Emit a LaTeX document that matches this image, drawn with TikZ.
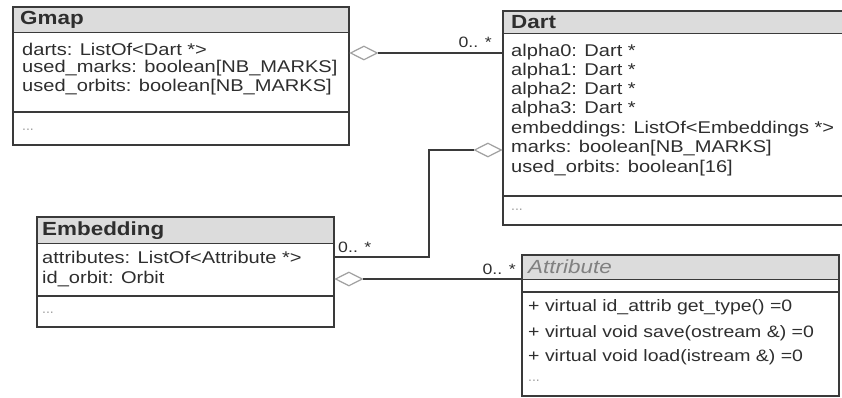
\documentclass[tikz,border=0pt]{standalone}
\usepackage{fontspec}
\setmainfont{Liberation Sans}
\usetikzlibrary{shapes.geometric}
\definecolor{umlline}{HTML}{3A3A3A}
\definecolor{umlhead}{HTML}{DCDCDC}
\definecolor{umltext}{HTML}{2E2E2E}
\definecolor{umlaggr}{HTML}{A0A0A0}

\begin{document}
\begin{tikzpicture}[x=1pt,y=-1pt]
	\tikzset{classbox/.style = {draw=umlline,line width=1.8pt,anchor=north west,inner sep=0pt}}
	\tikzset{headbar/.style = {fill=umlhead,anchor=north west,inner sep=0pt}}
	\tikzset{member/.style = {anchor=west,inner sep=0pt,text=umltext,xscale=1.18,font=\fontsize{17}{20}\selectfont}}
	\tikzset{method/.style = {member,font=\fontsize{16.5}{20}\selectfont}}
	\tikzset{cname/.style = {member,font=\fontsize{19}{22}\selectfont\bfseries}}
	\tikzset{more/.style = {anchor=west,inner sep=0pt,text=umlaggr,font=\fontsize{14}{14}\selectfont}}
	\tikzset{aggr/.style = {shape=diamond,draw=umlaggr,fill=white,line width=1.2pt,inner sep=0pt,minimum width=27pt,minimum height=14pt,aspect=2}}
	\tikzset{assoc/.style = {draw=umlline,line width=1.6pt}}
	\tikzset{mult/.style = {inner sep=0pt,text=umltext,xscale=1.18,font=\fontsize{15}{15}\selectfont}}

	\useasboundingbox (0,0) rectangle (842,398);

	% Gmap
	\node[headbar,minimum width=336pt,minimum height=26pt] (gmaph) at (12,6) {};
	\node[classbox,minimum width=336pt,minimum height=138pt] (gmap) at (12,6) {};
	\draw[assoc] (gmaph.south west) -- (gmaph.south east);
	\draw[assoc] (gmap.west |- 0,112) -- (gmap.east |- 0,112);
	\node[cname] (gmapn) at (20,20) {Gmap};
	\node[member] (gmap1) at (22,49) {darts: ListOf<Dart *>};
	\node[member] (gmap2) at (22,68) {used\_marks: boolean[NB\_MARKS]};
	\node[member] (gmap3) at (22,87) {used\_orbits: boolean[NB\_MARKS]};
	\node[more] (gmap4) at (22,130) {...};

	% Dart
	\node[headbar,minimum width=345pt,minimum height=23pt] (darth) at (502,10) {};
	\node[classbox,minimum width=345pt,minimum height=214pt] (dart) at (502,10) {};
	\draw[assoc] (darth.south west) -- (darth.south east);
	\draw[assoc] (dart.west |- 0,196) -- (dart.east |- 0,196);
	\node[cname] (dartn) at (511,22) {Dart};
	\node[member] (dart1) at (511,52) {alpha0: Dart *};
	\node[member] (dart2) at (511,71) {alpha1: Dart *};
	\node[member] (dart3) at (511,90) {alpha2: Dart *};
	\node[member] (dart4) at (511,109) {alpha3: Dart *};
	\node[member] (dart5) at (511,129) {embeddings: ListOf<Embeddings *>};
	\node[member] (dart6) at (511,148) {marks: boolean[NB\_MARKS]};
	\node[member] (dart7) at (511,168) {used\_orbits: boolean[16]};
	\node[more] (dart8) at (511,210) {...};

	% Embedding
	\node[headbar,minimum width=297pt,minimum height=27pt] (embh) at (36,216) {};
	\node[classbox,minimum width=297pt,minimum height=110pt] (emb) at (36,216) {};
	\draw[assoc] (embh.south west) -- (embh.south east);
	\draw[assoc] (emb.west |- 0,296) -- (emb.east |- 0,296);
	\node[cname] (embn) at (42,231) {Embedding};
	\node[member] (emb1) at (42,257) {attributes: ListOf<Attribute *>};
	\node[member] (emb2) at (42,279) {id\_orbit: Orbit};
	\node[more] (emb3) at (42,313) {...};

	% Attribute
	\node[headbar,minimum width=317pt,minimum height=25pt] (attrh) at (521,254) {};
	\node[classbox,minimum width=317pt,minimum height=141pt] (attr) at (521,254) {};
	\draw[assoc] (attrh.south west) -- (attrh.south east);
	\draw[assoc] (attr.west |- 0,292) -- (attr.east |- 0,292);
	\node[member,text=umlaggr!80!black,font=\fontsize{19}{22}\selectfont\itshape] (attrn) at (528,267) {Attribute};
	\node[method] (attr1) at (528,307) {+ virtual id\_attrib get\_type() =0};
	\node[method] (attr2) at (528,333) {+ virtual void save(ostream \&) =0};
	\node[method] (attr3) at (528,357) {+ virtual void load(istream \&) =0};
	\node[more] (attr4) at (528,381) {...};

	% Gmap - Dart
	\node[aggr,anchor=west] (agg1) at (gmap.east |- 0,53) {};
	\draw[assoc] (agg1.east) -- (dart.west |- agg1.east);
	\node[mult,anchor=east] (mult1) at (492,42) {0.. *};

	% Dart - Embedding
	\node[aggr,anchor=east] (agg2) at (dart.west |- 0,150) {};
	\coordinate (bend) at (429,150);
	\coordinate (embin) at (emb.east |- 0,257);
	\draw[assoc] (agg2.west) -- (bend) |- (embin);
	\node[mult,anchor=west] (mult2) at (338,247) {0.. *};

	% Embedding - Attribute
	\node[aggr,anchor=west] (agg3) at (emb.east |- 0,279) {};
	\draw[assoc] (agg3.east) -- (attr.west |- agg3.east);
	\node[mult,anchor=east] (mult3) at (516,269) {0.. *};
\end{tikzpicture}
\end{document}
